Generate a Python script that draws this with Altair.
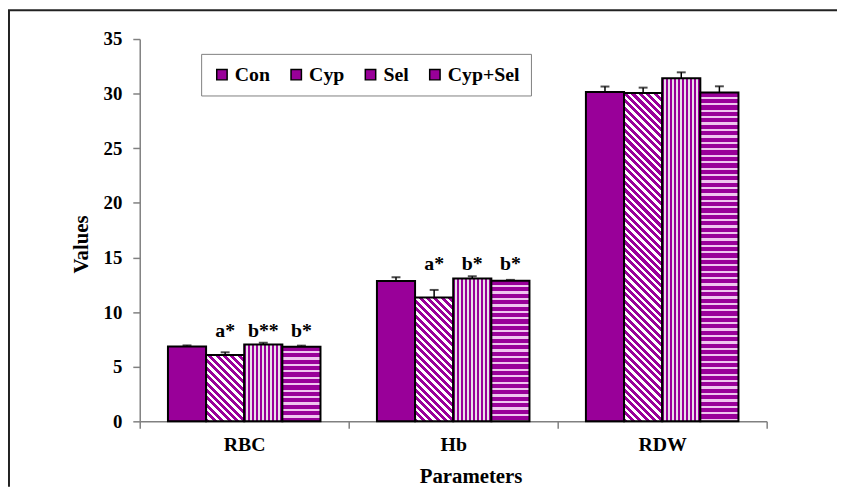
import altair as alt
import pandas as pd

# ---- data ----
params = ["RBC", "Hb", "RDW"]
groups = ["Con", "Cyp", "Sel", "Cyp+Sel"]
con = [6.85, 12.85, 30.15]
cyp = [6.07, 11.33, 30.05]
sel = [7.04, 13.08, 31.40]
cypsel = [6.83, 12.87, 30.10]
con_se = [0.10, 0.35, 0.50]
cyp_se = [0.25, 0.70, 0.50]
sel_se = [0.15, 0.20, 0.55]
cypsel_se = [0.10, 0.08, 0.57]
ann_rbc = ["", "a*", "b**", "b*"]
ann_hb = ["", "a*", "b*", "b*"]
ann_rdw = ["", "", "", ""]

# ---- layout / style ----
W, H, YMAX = 633, 386, 35
PURPLE = "#990099"
FONT = "Liberation Serif, Times New Roman, serif"
PAD_OUT = 0.74

values = [con, cyp, sel, cypsel]
ses = [con_se, cyp_se, sel_se, cypsel_se]
anns = [ann_rbc, ann_hb, ann_rdw]
rows = []
for pi, p in enumerate(params):
    for gi, g in enumerate(groups):
        rows.append({"param": p, "group": g, "value": values[gi][pi],
                     "se": ses[gi][pi], "top": values[gi][pi] + ses[gi][pi],
                     "ann": anns[pi][gi]})
df = pd.DataFrame(rows)
df["labely"] = df.groupby("param")["top"].transform("max")

bar_w = (W / 3) / (4 + 2 * PAD_OUT)
px = H / YMAX


def stripe_stops(n, c1, c2, frac2):
    stops = []
    period = 1.0 / n
    i = 0
    while i * period < 1.0:
        a = i * period
        b = min(a + period * (1 - frac2), 1.0)
        c = min(a + period, 1.0)
        stops += [{"offset": round(a, 5), "color": c1}, {"offset": round(b, 5), "color": c1},
                  {"offset": round(b, 5), "color": c2}, {"offset": round(c, 5), "color": c2}]
        i += 1
    return stops


def grad_for(group, value):
    w, h = bar_w, value * px
    if group == "Cyp":  # diagonal "\" stripes
        s = (w + h) / (w * w + h * h)
        return {"gradient": "linear", "x1": 0, "y1": 1, "x2": s * w, "y2": 1 - s * h,
                "stops": stripe_stops((w + h) / 7.5, PURPLE, "#ffffff", 0.45)}
    if group == "Sel":  # vertical stripes
        return {"gradient": "linear", "x1": 0, "y1": 0, "x2": 1, "y2": 0,
                "stops": stripe_stops(w / 4.0, PURPLE, "#e8e2e8", 0.45)}
    # wavy -> horizontal light lines
    return {"gradient": "linear", "x1": 0, "y1": 0, "x2": 0, "y2": 1,
            "stops": stripe_stops(h / 6.5, PURPLE, "#f0c4f0", 0.35)}


conds = []
for r in rows:
    if r["group"] != "Con":
        conds.append({"test": f"datum.param === '{r['param']}' && datum.group === '{r['group']}'",
                      "value": grad_for(r["group"], r["value"])})

x_enc = alt.X("param:N", sort=params, title="Parameters",
              scale=alt.Scale(paddingInner=0, paddingOuter=0),
              axis=alt.Axis(labelAngle=0, tickBand="extent", tickSize=7,
                            labelBaseline="alphabetic", labelPadding=22,
                            titleX=334, titleY=62, titleBaseline="alphabetic",
                            labelFont=FONT, titleFont=FONT))
xo_enc = alt.XOffset("group:N", sort=groups,
                     scale=alt.Scale(paddingInner=0, paddingOuter=PAD_OUT))
y_scale = alt.Scale(domain=[0, YMAX], nice=False)

base = alt.Chart(df)

bars = base.mark_bar(stroke="black", strokeWidth=2).encode(
    x=x_enc,
    xOffset=xo_enc,
    y=alt.Y("value:Q", scale=y_scale, title="Values",
            axis=alt.Axis(values=list(range(0, 36, 5)), tickSize=7, labelPadding=11,
                          titleX=-53, titleY=207, titleBaseline="alphabetic",
                          titleAlign="center", grid=False,
                          labelFont=FONT, titleFont=FONT)),
    fill=alt.Fill("group:N", sort=groups,
                  scale=alt.Scale(domain=groups, range=[PURPLE] * 4),
                  legend=alt.Legend(title=None, orient="none", legendX=62, legendY=15,
                                    direction="horizontal", symbolType="square",
                                    symbolSize=110, symbolStrokeColor="black",
                                    symbolStrokeWidth=1.5, labelFont=FONT,
                                    labelFontSize=20, labelFontWeight="bold",
                                    labelColor="black", labelOffset=3,
                                    columnPadding=16, padding=11,
                                    strokeColor="#808080", fillColor="white"),
                  condition=conds),
)

err = base.mark_rule(color="black", strokeWidth=1.5).encode(
    x=alt.X("param:N", sort=params), xOffset=xo_enc,
    y=alt.Y("value:Q", scale=y_scale), y2="top:Q")

caps = base.mark_tick(color="black", thickness=2, size=9, orient="horizontal").encode(
    x=alt.X("param:N", sort=params), xOffset=xo_enc,
    y=alt.Y("top:Q", scale=y_scale))

labels = base.mark_text(font=FONT, fontSize=20, fontWeight="bold", color="black",
                        baseline="alphabetic", dy=-6).encode(
    x=alt.X("param:N", sort=params), xOffset=xo_enc,
    y=alt.Y("labely:Q", scale=y_scale), text="ann:N")

one = alt.Chart(pd.DataFrame({"k": [0]}))
frame_top = one.mark_rule(color="#222222", strokeWidth=2).encode(
    x=alt.value(-133), x2=alt.value(W + 71), y=alt.value(-29))
frame_left = one.mark_rule(color="#222222", strokeWidth=2).encode(
    x=alt.value(-132), y=alt.value(-29), y2=alt.value(H + 66))

chart = alt.layer(bars, err, caps, labels, frame_top, frame_left).properties(
    width=W, height=H,
    autosize=alt.AutoSizeParams(type="none"),
    padding={"left": 133, "top": 29, "right": 71, "bottom": 66},
).configure(font=FONT).configure_view(stroke=None).configure_axis(
    labelFont=FONT, labelFontSize=19, labelFontWeight="bold", labelColor="black",
    titleFont=FONT, titleFontSize=21, titleFontWeight="bold", titleColor="black",
    domainColor="#808080", domainWidth=1.5, tickColor="#808080", tickWidth=1.5,
    grid=False,
).configure_axisX(labelFontSize=20).configure_legend(labelFont=FONT)

chart.save("out.html", embed_options={"renderer": "svg", "actions": False})
